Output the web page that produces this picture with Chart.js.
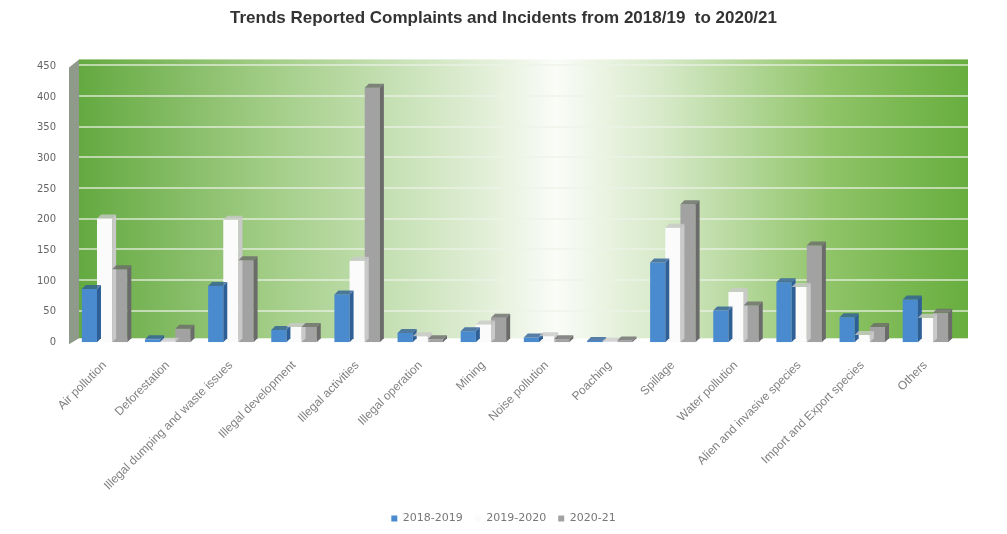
<!DOCTYPE html>
<html>
<head>
<meta charset="utf-8">
<script src="https://cdn.jsdelivr.net/npm/chart.js@4"></script>
<style>
  html, body { margin: 0; padding: 0; background: #fff; }
  #wrap { width: 1007px; height: 534px; }
</style>
</head>
<body>
<div id="wrap"><canvas id="myChart"></canvas></div>
<script>
const categories = [
  "Air pollution", "Deforestation", "Illegal dumping and waste issues",
  "Illegal development", "Illegal activities", "Illegal operation", "Mining",
  "Noise pollution", "Poaching", "Spillage", "Water pollution",
  "Alien and invasive species", "Import and Export species", "Others"
];
const y2018 = [87, 5, 92, 20, 78, 15, 18, 8, 2, 130, 52, 98, 41, 70];
const y2019 = [202, 1, 200, 25, 133, 10, 29, 10, 1, 187, 82, 90, 12, 40];
const y2020 = [119, 22, 134, 25, 415, 5, 40, 5, 3, 225, 60, 158, 25, 48];
const seriesNames = ["2018-2019", "2019-2020", "2020-21"];
const yTicks = [0, 50, 100, 150, 200, 250, 300, 350, 400, 450];

// green wall behind the bars, fading to white in the middle
const backWall = {
  id: "backWall",
  beforeDatasetsDraw(chart) {
    const { ctx, chartArea: a } = chart;
    ctx.save();
    const g = ctx.createLinearGradient(a.left, 0, a.right + 10, 0);
    g.addColorStop(0, "#62a83e");
    g.addColorStop(0.22, "#a2cd86");
    g.addColorStop(0.45, "#deedd3");
    g.addColorStop(0.54, "#fafcf7");
    g.addColorStop(0.66, "#d6e9c8");
    g.addColorStop(0.85, "#8ec366");
    g.addColorStop(1, "#68ae3f");
    ctx.fillStyle = g;
    ctx.fillRect(a.left + 6, a.top - 7, a.right - a.left + 5, a.bottom - a.top + 3);
    // side wall on the left
    ctx.fillStyle = "#8f9a8a";
    ctx.beginPath();
    ctx.moveTo(a.left - 4, a.top + 1);
    ctx.lineTo(a.left + 6, a.top - 7);
    ctx.lineTo(a.left + 6, a.bottom - 4);
    ctx.lineTo(a.left - 4, a.bottom + 2);
    ctx.closePath();
    ctx.fill();
    // grid lines on the wall
    const y = chart.scales.y;
    ctx.strokeStyle = "rgba(235,242,230,0.85)";
    ctx.lineWidth = 1.5;
    yTicks.slice(1).forEach((t) => {
      const py = Math.round(y.getPixelForValue(t)) - 1;
      ctx.beginPath();
      ctx.moveTo(a.left + 6, py);
      ctx.lineTo(a.right + 11, py);
      ctx.stroke();
    });
    ctx.restore();
  },
};

// darker side and top faces so the bars look like blocks
const sideColors = ["#2e5f96", "#c9c9c9", "#6b6b6b"];
const barFaces = {
  id: "barFaces",
  afterDatasetsDraw(chart) {
    const { ctx } = chart;
    ctx.save();
    chart.data.datasets.forEach((ds, i) => {
      chart.getDatasetMeta(i).data.forEach((bar) => {
        const { x, y, base, width } = bar.getProps(["x", "y", "base", "width"], true);
        const r = x + width / 2;
        const d = 4;
        ctx.fillStyle = sideColors[i];
        ctx.beginPath();
        ctx.moveTo(r, y);
        ctx.lineTo(r + d, y - d);
        ctx.lineTo(r + d, base - d);
        ctx.lineTo(r, base);
        ctx.closePath();
        ctx.fill();
        ctx.globalAlpha = 0.8;
        ctx.beginPath();
        ctx.moveTo(x - width / 2, y);
        ctx.lineTo(x - width / 2 + d, y - d);
        ctx.lineTo(r + d, y - d);
        ctx.lineTo(r, y);
        ctx.closePath();
        ctx.fill();
        ctx.globalAlpha = 1;
      });
    });
    ctx.restore();
  },
};

const info = {
  labels: categories,
  datasets: [
    { label: seriesNames[0], data: y2018, backgroundColor: "#4a8bd0" },
    { label: seriesNames[1], data: y2019, backgroundColor: "#fbfbfb" },
    { label: seriesNames[2], data: y2020, backgroundColor: "#a2a2a2" },
  ],
};

const options = {
  responsive: true,
  maintainAspectRatio: false,
  animation: false,
  layout: { padding: { left: 27, right: 27, top: 2, bottom: 0 } },
  datasets: { bar: { categoryPercentage: 0.72, barPercentage: 1.0 } },
  scales: {
    y: {
      min: 0,
      max: 450,
      afterBuildTicks: (axis) => { axis.ticks = yTicks.map((v) => ({ value: v })); },
      afterFit: (axis) => { axis.width = 46; },
      ticks: { color: "#666", font: { family: "DejaVu Sans", size: 10 }, padding: 9 },
      grid: { display: false },
      border: { display: false },
    },
    // empty axis on the right, only keeps a margin beside the wall
    yRight: {
      position: "right",
      display: true,
      ticks: { display: false },
      grid: { display: false },
      border: { display: false },
      afterFit: (axis) => { axis.width = 23; },
    },
    x: {
      ticks: {
        color: "#808080",
        font: { family: "Liberation Sans", size: 12 },
        minRotation: 45,
        maxRotation: 45,
        autoSkip: false,
        padding: 8,
      },
      grid: { display: false },
      border: { display: false },
    },
  },
  plugins: {
    title: {
      display: true,
      text: "Trends Reported Complaints and Incidents from 2018/19  to 2020/21",
      color: "#333",
      font: { family: "Liberation Sans", size: 17, weight: "bold" },
      padding: { top: 6, bottom: 38 },
    },
    legend: {
      position: "bottom",
      labels: {
        color: "#777",
        font: { family: "DejaVu Sans", size: 11 },
        boxWidth: 6,
        boxHeight: 6,
        padding: 12,
      },
    },
    tooltip: { enabled: false },
  },
};

new Chart(document.getElementById("myChart"), {
  type: "bar",
  data: info,
  options,
  plugins: [backWall, barFaces],
});
</script>
</body>
</html>
